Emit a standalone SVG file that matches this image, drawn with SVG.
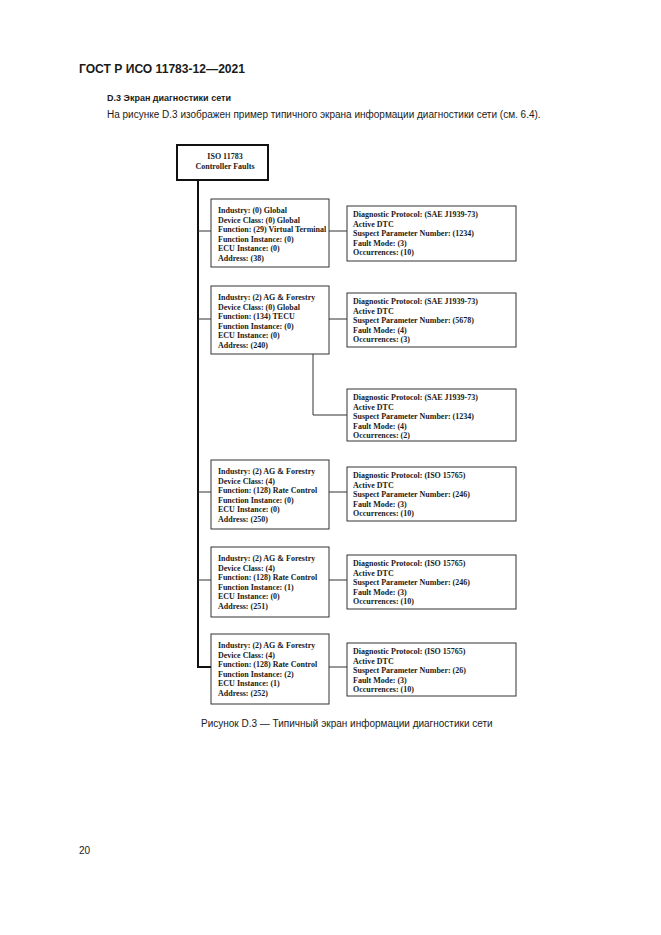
<svg xmlns="http://www.w3.org/2000/svg" width="661" height="935" viewBox="0 0 661 935">
<style>
.bg{fill:#fff}
.hdr{font-family:"Liberation Sans",Arial,sans-serif;fill:#1a1a1a}
.box{fill:#fff;stroke:#333;stroke-width:1}
.tbox{fill:#fff;stroke:#111;stroke-width:2}
.t{font-family:"Liberation Serif","Times New Roman",serif;font-weight:bold;font-size:8px;fill:#1a1a1a}
.ln{stroke:#333;stroke-width:1;fill:none}
.trunk{stroke:#111;stroke-width:2;fill:none}
</style>
<rect class="bg" x="0" y="0" width="661" height="935"/>
<text class="hdr" x="79" y="73" font-size="12.1" font-weight="bold">ГОСТ Р ИСО 11783-12—2021</text>
<text class="hdr" x="107" y="101" font-size="9" font-weight="bold">D.3 Экран диагностики сети</text>
<text class="hdr" x="107" y="118" font-size="10" fill="#333">На рисунке D.3 изображен пример типичного экрана информации диагностики сети (см. 6.4).</text>

<g id="connectors">
<polyline class="trunk" points="198,180 198,667 211,667"/>
<line class="ln" x1="198" y1="231" x2="211" y2="231"/>
<line class="ln" x1="198" y1="319" x2="211" y2="319"/>
<line class="ln" x1="198" y1="492" x2="211" y2="492"/>
<line class="ln" x1="198" y1="580" x2="211" y2="580"/>
<line class="ln" x1="329" y1="231" x2="347" y2="231"/>
<line class="ln" x1="329" y1="319" x2="347" y2="319"/>
<polyline class="ln" points="313,354 313,415 347,415"/>
<line class="ln" x1="329" y1="492" x2="347" y2="492"/>
<line class="ln" x1="329" y1="580" x2="347" y2="580"/>
<line class="ln" x1="329" y1="667" x2="347" y2="667"/>
</g>

<g id="root">
<rect class="tbox" x="177" y="145" width="91" height="35"/>
<text class="t" x="225" y="159" text-anchor="middle">ISO 11783</text>
<text class="t" x="225" y="169" text-anchor="middle">Controller Faults</text>
</g>

<g id="ecu1">
<rect class="box" x="211" y="199" width="118" height="68"/>
<text class="t" x="218" y="213">Industry: (0) Global</text>
<text class="t" x="218" y="222.5">Device Class: (0) Global</text>
<text class="t" x="218" y="232">Function: (29) Virtual Terminal</text>
<text class="t" x="218" y="241.5">Function Instance: (0)</text>
<text class="t" x="218" y="251">ECU Instance: (0)</text>
<text class="t" x="218" y="260.5">Address: (38)</text>
</g>
<g id="dtc1">
<rect class="box" x="347" y="206" width="169" height="55"/>
<text class="t" x="353" y="217">Diagnostic Protocol: (SAE J1939-73)</text>
<text class="t" x="353" y="226.5">Active DTC</text>
<text class="t" x="353" y="236">Suspect Parameter Number: (1234)</text>
<text class="t" x="353" y="245.5">Fault Mode: (3)</text>
<text class="t" x="353" y="255">Occurrences: (10)</text>
</g>

<g id="ecu2">
<rect class="box" x="211" y="286" width="118" height="68"/>
<text class="t" x="218" y="300">Industry: (2) AG &amp; Forestry</text>
<text class="t" x="218" y="309.5">Device Class: (0) Global</text>
<text class="t" x="218" y="319">Function: (134) TECU</text>
<text class="t" x="218" y="328.5">Function Instance: (0)</text>
<text class="t" x="218" y="338">ECU Instance: (0)</text>
<text class="t" x="218" y="347.5">Address: (240)</text>
</g>
<g id="dtc2">
<rect class="box" x="347" y="293" width="169" height="54"/>
<text class="t" x="353" y="304">Diagnostic Protocol: (SAE J1939-73)</text>
<text class="t" x="353" y="313.5">Active DTC</text>
<text class="t" x="353" y="323">Suspect Parameter Number: (5678)</text>
<text class="t" x="353" y="332.5">Fault Mode: (4)</text>
<text class="t" x="353" y="342">Occurrences: (3)</text>
</g>
<g id="dtc3">
<rect class="box" x="347" y="389" width="169" height="52"/>
<text class="t" x="353" y="400">Diagnostic Protocol: (SAE J1939-73)</text>
<text class="t" x="353" y="409.5">Active DTC</text>
<text class="t" x="353" y="419">Suspect Parameter Number: (1234)</text>
<text class="t" x="353" y="428.5">Fault Mode: (4)</text>
<text class="t" x="353" y="438">Occurrences: (2)</text>
</g>

<g id="ecu3">
<rect class="box" x="211" y="460" width="118" height="69"/>
<text class="t" x="218" y="474">Industry: (2) AG &amp; Forestry</text>
<text class="t" x="218" y="483.5">Device Class: (4)</text>
<text class="t" x="218" y="493">Function: (128) Rate Control</text>
<text class="t" x="218" y="502.5">Function Instance: (0)</text>
<text class="t" x="218" y="512">ECU Instance: (0)</text>
<text class="t" x="218" y="521.5">Address: (250)</text>
</g>
<g id="dtc4">
<rect class="box" x="347" y="467" width="169" height="54"/>
<text class="t" x="353" y="478">Diagnostic Protocol: (ISO 15765)</text>
<text class="t" x="353" y="487.5">Active DTC</text>
<text class="t" x="353" y="497">Suspect Parameter Number: (246)</text>
<text class="t" x="353" y="506.5">Fault Mode: (3)</text>
<text class="t" x="353" y="516">Occurrences: (10)</text>
</g>

<g id="ecu4">
<rect class="box" x="211" y="547" width="118" height="70"/>
<text class="t" x="218" y="561">Industry: (2) AG &amp; Forestry</text>
<text class="t" x="218" y="570.5">Device Class: (4)</text>
<text class="t" x="218" y="580">Function: (128) Rate Control</text>
<text class="t" x="218" y="589.5">Function Instance: (1)</text>
<text class="t" x="218" y="599">ECU Instance: (0)</text>
<text class="t" x="218" y="608.5">Address: (251)</text>
</g>
<g id="dtc5">
<rect class="box" x="347" y="555" width="169" height="54"/>
<text class="t" x="353" y="566">Diagnostic Protocol: (ISO 15765)</text>
<text class="t" x="353" y="575.5">Active DTC</text>
<text class="t" x="353" y="585">Suspect Parameter Number: (246)</text>
<text class="t" x="353" y="594.5">Fault Mode: (3)</text>
<text class="t" x="353" y="604">Occurrences: (10)</text>
</g>

<g id="ecu5">
<rect class="box" x="211" y="634" width="118" height="70"/>
<text class="t" x="218" y="648">Industry: (2) AG &amp; Forestry</text>
<text class="t" x="218" y="657.5">Device Class: (4)</text>
<text class="t" x="218" y="667">Function: (128) Rate Control</text>
<text class="t" x="218" y="676.5">Function Instance: (2)</text>
<text class="t" x="218" y="686">ECU Instance: (1)</text>
<text class="t" x="218" y="695.5">Address: (252)</text>
</g>
<g id="dtc6">
<rect class="box" x="347" y="643" width="169" height="53"/>
<text class="t" x="353" y="654">Diagnostic Protocol: (ISO 15765)</text>
<text class="t" x="353" y="663.5">Active DTC</text>
<text class="t" x="353" y="673">Suspect Parameter Number: (26)</text>
<text class="t" x="353" y="682.5">Fault Mode: (3)</text>
<text class="t" x="353" y="692">Occurrences: (10)</text>
</g>

<text class="hdr" x="201" y="727" font-size="10" fill="#333">Рисунок D.3 — Типичный экран информации диагностики сети</text>
<text class="hdr" x="79" y="854" font-size="10" fill="#333">20</text>
</svg>
